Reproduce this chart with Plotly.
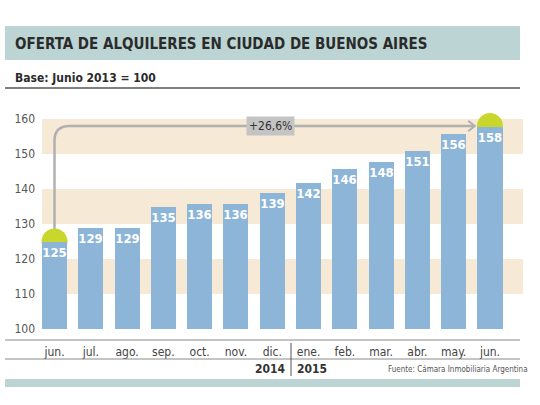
import plotly.graph_objects as go

# datos
meses = ["jun.", "jul.", "ago.", "sep.", "oct.", "nov.", "dic.",
         "ene.", "feb.", "mar.", "abr.", "may.", "jun."]
indice = [125, 129, 129, 135, 136, 136, 139, 142, 146, 148, 151, 156, 158]
y_ticks = [100, 110, 120, 130, 140, 150, 160]
bandas = [(110, 120), (130, 140), (150, 160)]
anios = ["2014", "2015"]
variacion = "+26,6%"

W, H = 540, 405
FONT = "DejaVu Sans Condensed, Liberation Sans Narrow, sans-serif"
AZUL = "#8cb5d7"
BEIGE = "#f6e9d6"
VERDE = "#c9d62b"
TEAL = "#bcd5d4"
GRIS = "#b0b0b0"

def px_x(p):
    return p / W

def px_y(p):
    return 1 - p / H

x = list(range(len(meses)))

fig = go.Figure()
fig.add_trace(go.Bar(
    x=x, y=indice, base=0, width=0.69,
    marker=dict(color=AZUL, line=dict(width=0)),
    text=[str(v) for v in indice], textposition="inside",
    insidetextanchor="end", textangle=0, constraintext="none",
    textfont=dict(family=FONT, size=13, color="white", weight="bold"),
    hoverinfo="skip",
))
# traza invisible para que se dibuje el eje de etiquetas
fig.add_trace(go.Scatter(
    x=[x[0]], y=[indice[0]], yaxis="y2", mode="markers",
    marker=dict(opacity=0), hoverinfo="skip",
))

shapes = []
# bandas beige
for y0, y1 in bandas:
    shapes.append(dict(type="rect", xref="paper", yref="y",
                       x0=px_x(42), x1=px_x(523), y0=y0, y1=y1,
                       fillcolor=BEIGE, line=dict(width=0), layer="below"))

# flecha de variacion
i0, i1 = 0, len(indice) - 1
ya = indice[-1]
path = (f"M {i0},{indice[0]} L {i0},{ya - 4.2} "
        f"Q {i0},{ya} {i0 + 0.42},{ya} L {i1 - 0.42},{ya}")
shapes.append(dict(type="path", xref="x", yref="y", path=path,
                   line=dict(color=GRIS, width=2.5), layer="below"))
shapes.append(dict(type="path", xref="x", yref="y",
                   path=f"M {i1 - 0.6},{ya + 1.5} L {i1 - 0.42},{ya} L {i1 - 0.6},{ya - 1.5}",
                   line=dict(color=GRIS, width=2), layer="below"))

# circulos en extremos
for i in (i0, i1):
    shapes.append(dict(type="circle", xref="x", yref="y",
                       xsizemode="pixel", ysizemode="pixel",
                       xanchor=i, yanchor=indice[i],
                       x0=-13, x1=13, y0=-13, y1=13,
                       fillcolor=VERDE, line=dict(width=0), layer="below"))

# franjas de encabezado y pie
shapes.append(dict(type="rect", xref="paper", yref="paper",
                   x0=px_x(5), x1=px_x(520), y0=px_y(60), y1=px_y(26),
                   fillcolor=TEAL, line=dict(width=0)))
shapes.append(dict(type="line", xref="paper", yref="paper",
                   x0=px_x(5), x1=px_x(520), y0=px_y(88), y1=px_y(88),
                   line=dict(color="#555555", width=1.5)))
shapes.append(dict(type="line", xref="paper", yref="paper",
                   x0=px_x(5), x1=px_x(520), y0=px_y(340), y1=px_y(340),
                   line=dict(color="#8a8a8a", width=1)))
shapes.append(dict(type="line", xref="paper", yref="paper",
                   x0=px_x(5), x1=px_x(520), y0=px_y(359), y1=px_y(359),
                   line=dict(color="#8a8a8a", width=1)))
shapes.append(dict(type="line", xref="paper", yref="paper",
                   x0=px_x(291), x1=px_x(291), y0=px_y(343), y1=px_y(376),
                   line=dict(color="#555555", width=1)))
shapes.append(dict(type="rect", xref="paper", yref="paper",
                   x0=px_x(5), x1=px_x(520), y0=px_y(387), y1=px_y(379),
                   fillcolor=TEAL, line=dict(width=0)))

annotations = [
    dict(xref="paper", yref="paper", x=px_x(13), y=px_y(44),
         text="OFERTA DE ALQUILERES EN CIUDAD DE BUENOS AIRES",
         showarrow=False, xanchor="left", yanchor="middle",
         font=dict(family=FONT, size=15, color="#2b2b2b", weight="bold")),
    dict(xref="paper", yref="paper", x=px_x(13), y=px_y(78),
         text="Base: Junio 2013 = 100",
         showarrow=False, xanchor="left", yanchor="middle",
         font=dict(family=FONT, size=12, color="#2b2b2b", weight="bold")),
    dict(xref="x", yref="y", x=5.94, y=ya, text=variacion,
         showarrow=False, bgcolor="#c4c4c4", borderpad=2,
         font=dict(family=FONT, size=12, color="#333333")),
    dict(xref="paper", yref="paper", x=px_x(288), y=px_y(369),
         text=anios[0], showarrow=False, xanchor="right", yanchor="middle",
         font=dict(family=FONT, size=12, color="#333333", weight="bold")),
    dict(xref="paper", yref="paper", x=px_x(295), y=px_y(369),
         text=anios[1], showarrow=False, xanchor="left", yanchor="middle",
         font=dict(family=FONT, size=12, color="#333333", weight="bold")),
    dict(xref="paper", yref="paper", x=px_x(530), y=px_y(369),
         text="Fuente: Cámara Inmobiliaria Argentina", showarrow=False,
         xanchor="right", yanchor="middle",
         font=dict(family=FONT, size=8, color="#555555")),
]

y_dom = [px_y(329), px_y(101.5)]
fig.update_layout(
    width=W, height=H,
    margin=dict(l=0, r=0, t=0, b=0),
    paper_bgcolor="white", plot_bgcolor="rgba(0,0,0,0)",
    showlegend=False, bargap=0,
    shapes=shapes, annotations=annotations,
    font=dict(family=FONT),
    xaxis=dict(domain=[px_x(30), px_x(523)], range=[-0.675, 12.91],
               tickmode="array", tickvals=x, ticktext=meses,
               showgrid=False, zeroline=False, showline=False, ticks="",
               ticklabelstandoff=14, automargin=False,
               tickfont=dict(family=FONT, size=12, color="#444444")),
    yaxis=dict(domain=y_dom, range=[100, 165], showticklabels=False,
               showgrid=False, zeroline=False, showline=False, ticks="",
               automargin=False),
    # eje solo para las etiquetas, alineado con el borde de las franjas
    yaxis2=dict(domain=y_dom, range=[100, 165], overlaying="y",
                anchor="free", position=px_x(42), side="left",
                tickmode="array", tickvals=y_ticks,
                showgrid=False, zeroline=False, showline=False, ticks="",
                ticklabelstandoff=7, automargin=False,
                tickfont=dict(family=FONT, size=12, color="#555555")),
)

js = ("document.documentElement.style.overflow='hidden';"
      "document.documentElement.style.height='405px';"
      "document.body.style.margin='0';"
      "document.body.style.height='405px';"
      "document.body.style.overflow='hidden';")
fig.write_html("out.html", config={"displayModeBar": False}, post_script=js)
